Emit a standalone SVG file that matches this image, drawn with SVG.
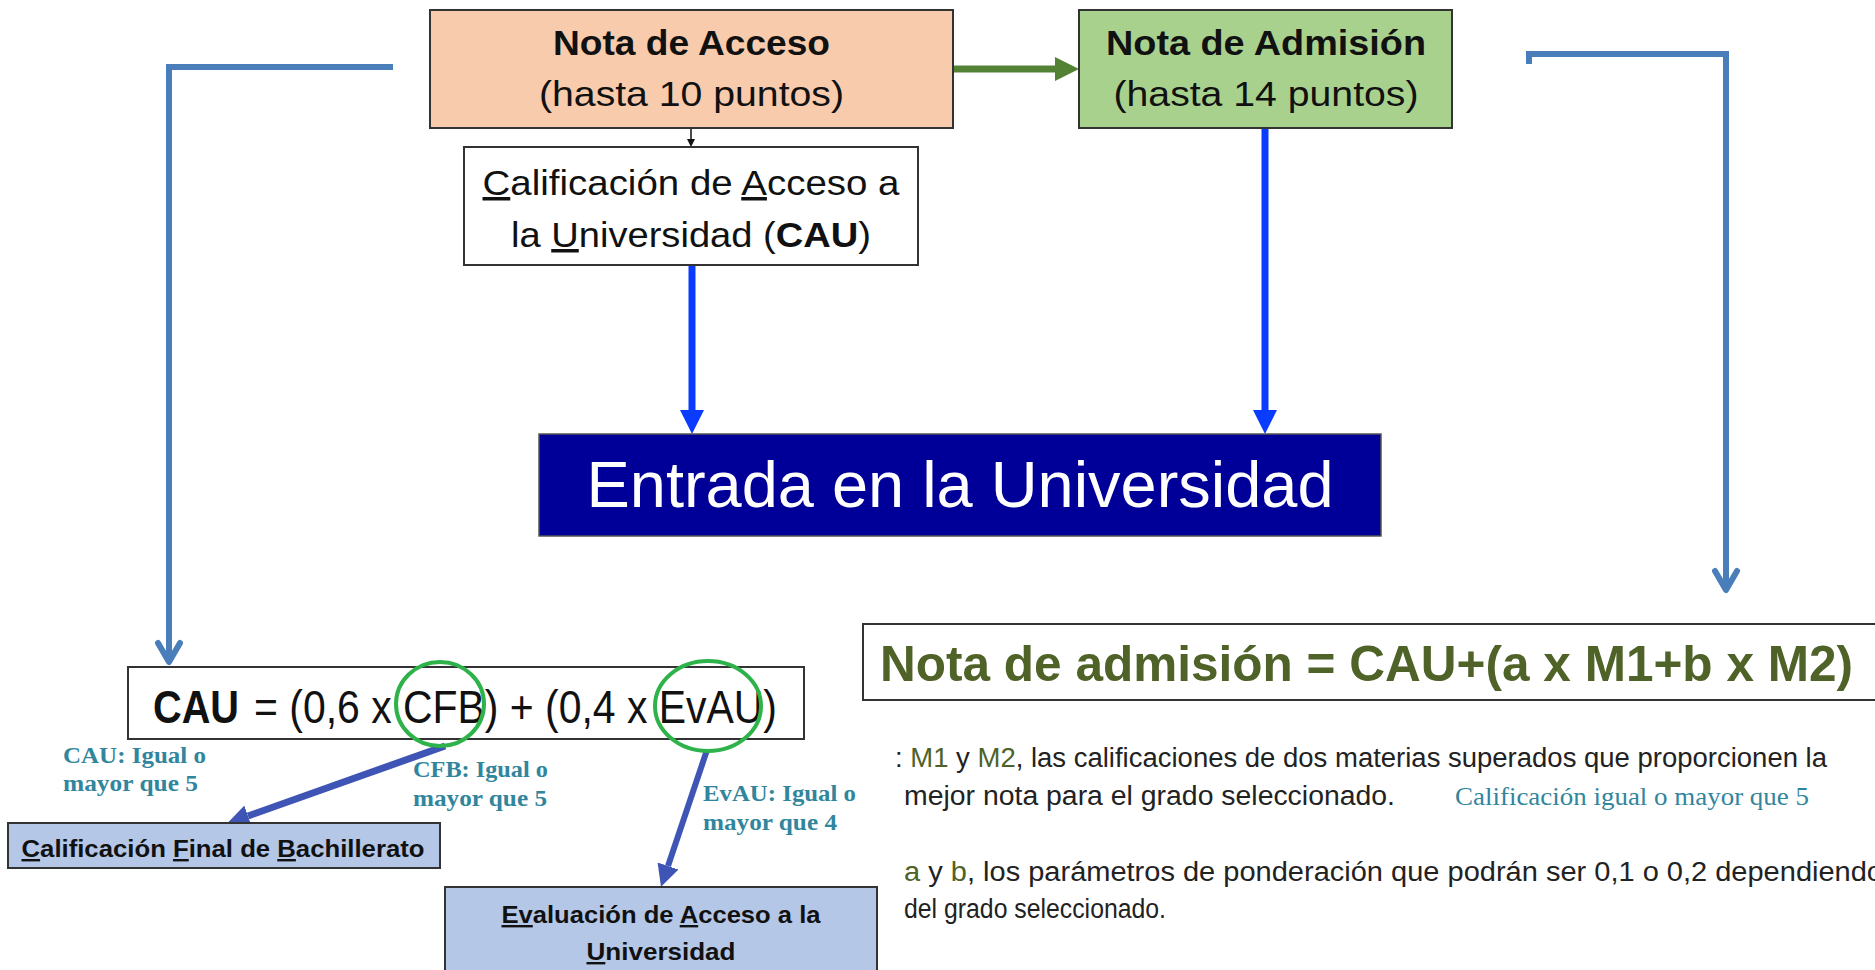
<svg xmlns="http://www.w3.org/2000/svg" width="1875" height="970" viewBox="0 0 1875 970">
<style>
  .box { stroke: #333; stroke-width: 2; }
  .sans { font-family: "Liberation Sans", Arial, sans-serif; }
  .serif { font-family: "Liberation Serif", "Times New Roman", serif; font-weight: bold; fill: #31859C; font-size: 23px; }
  .serif.reg { font-weight: normal; font-size: 26px; }
  .title { font-size: 35px; fill: #111; }
  .b { font-weight: bold; }
  .u { text-decoration: underline; }
  .body { font-size: 27px; fill: #222; }
  .g { fill: #4F6228; }
  .bracket { fill: none; stroke: #4A7EBB; stroke-width: 6; stroke-linejoin: miter; }
</style>
<defs>
  <marker id="hGreen" viewBox="0 0 24 24" refX="0" refY="12" markerWidth="24" markerHeight="24" markerUnits="userSpaceOnUse" orient="auto">
    <path d="M0,0 L24,12 L0,24 z" fill="#548235"/>
  </marker>
  <marker id="hBlue" viewBox="0 0 24 24" refX="0" refY="12" markerWidth="24" markerHeight="24" markerUnits="userSpaceOnUse" orient="auto">
    <path d="M0,0 L24,12 L0,24 z" fill="#0A3CFF"/>
  </marker>
  <marker id="hIndigo" viewBox="0 0 22 22" refX="0" refY="11" markerWidth="22" markerHeight="22" markerUnits="userSpaceOnUse" orient="auto">
    <path d="M0,0 L22,11 L0,22 z" fill="#3F55B5"/>
  </marker>
  <marker id="hBlack" viewBox="0 0 8 8" refX="0" refY="4" markerWidth="8" markerHeight="8" markerUnits="userSpaceOnUse" orient="auto">
    <path d="M0,0 L8,4 L0,8 z" fill="#111"/>
  </marker>
  <marker id="hOpen" viewBox="-26 -16 32 32" refX="0" refY="0" markerWidth="32" markerHeight="32" markerUnits="userSpaceOnUse" orient="auto">
    <path d="M-19,-11 L0,0 L-19,11" fill="none" stroke="#4A7EBB" stroke-width="6" stroke-linecap="round" stroke-linejoin="round"/>
  </marker>
</defs>
<rect width="1875" height="970" fill="#fff"/>

<g id="connectors">
  <line x1="953" y1="69" x2="1055" y2="69" stroke="#548235" stroke-width="7" marker-end="url(#hGreen)"/>
  <line x1="691" y1="128" x2="691" y2="139" stroke="#111" stroke-width="1.5" marker-end="url(#hBlack)"/>
  <line x1="692" y1="265" x2="692" y2="410" stroke="#0A3CFF" stroke-width="7" marker-end="url(#hBlue)"/>
  <line x1="1265" y1="128" x2="1265" y2="410" stroke="#0A3CFF" stroke-width="7" marker-end="url(#hBlue)"/>
  <polyline class="bracket" points="393,67 169,67 169,662" marker-end="url(#hOpen)"/>
  <polyline class="bracket" points="1529,64 1529,54 1726,54 1726,590" marker-end="url(#hOpen)"/>
  <line x1="445" y1="746" x2="248" y2="816" stroke="#3F55B5" stroke-width="7" marker-end="url(#hIndigo)"/>
  <line x1="707" y1="750" x2="668" y2="866" stroke="#3F55B5" stroke-width="6" marker-end="url(#hIndigo)"/>
</g>

<g id="nota-acceso">
  <rect class="box" x="430" y="10" width="523" height="118" fill="#F8CBAD"/>
  <text class="sans title b" x="691.5" y="55" text-anchor="middle" textLength="277" lengthAdjust="spacingAndGlyphs">Nota de Acceso</text>
  <text class="sans title" x="691.5" y="106" text-anchor="middle" textLength="305" lengthAdjust="spacingAndGlyphs">(hasta 10 puntos)</text>
</g>

<g id="nota-admision">
  <rect class="box" x="1079" y="10" width="373" height="118" fill="#A9D18E"/>
  <text class="sans title b" x="1266" y="55" text-anchor="middle" textLength="320" lengthAdjust="spacingAndGlyphs">Nota de Admisión</text>
  <text class="sans title" x="1266" y="106" text-anchor="middle" textLength="305" lengthAdjust="spacingAndGlyphs">(hasta 14 puntos)</text>
</g>

<g id="cau-definicion">
  <rect class="box" x="464" y="147" width="454" height="118" fill="#fff"/>
  <text class="sans title" x="691" y="195" text-anchor="middle" textLength="417" lengthAdjust="spacingAndGlyphs"><tspan class="u">C</tspan>alificación de <tspan class="u">A</tspan>cceso a</text>
  <text class="sans title" x="691" y="247" text-anchor="middle" textLength="360" lengthAdjust="spacingAndGlyphs">la <tspan class="u">U</tspan>niversidad (<tspan class="b">CAU</tspan>)</text>
</g>

<g id="entrada">
  <rect x="539" y="434" width="842" height="102" fill="#000099" stroke="#555" stroke-width="1.5"/>
  <text class="sans" x="960" y="507" text-anchor="middle" font-size="64" fill="#fff" textLength="747" lengthAdjust="spacingAndGlyphs">Entrada en la Universidad</text>
</g>

<g id="cau-formula">
  <rect class="box" x="128" y="667" width="676" height="72" fill="#fff"/>
  <text class="sans b" x="153" y="723" font-size="46" fill="#111" textLength="86" lengthAdjust="spacingAndGlyphs">CAU</text>
  <text class="sans" x="254" y="723" font-size="46" fill="#111" textLength="523" lengthAdjust="spacingAndGlyphs">= (0,6 x CFB) + (0,4 x EvAU)</text>
  <ellipse cx="440" cy="704" rx="44" ry="42" fill="none" stroke="#2EB24A" stroke-width="4"/>
  <ellipse cx="708" cy="706" rx="53" ry="45" fill="none" stroke="#2EB24A" stroke-width="4"/>
</g>

<g id="label-cau">
  <text class="serif" x="63" y="763" textLength="143" lengthAdjust="spacingAndGlyphs">CAU: Igual o</text>
  <text class="serif" x="63" y="791" textLength="135" lengthAdjust="spacingAndGlyphs">mayor que 5</text>
</g>
<g id="label-cfb">
  <text class="serif" x="413" y="777" textLength="135" lengthAdjust="spacingAndGlyphs">CFB: Igual o</text>
  <text class="serif" x="413" y="806" textLength="134" lengthAdjust="spacingAndGlyphs">mayor que 5</text>
</g>
<g id="label-evau">
  <text class="serif" x="703" y="801" textLength="153" lengthAdjust="spacingAndGlyphs">EvAU: Igual o</text>
  <text class="serif" x="703" y="830" textLength="134" lengthAdjust="spacingAndGlyphs">mayor que 4</text>
</g>

<g id="cfb">
  <rect class="box" x="8" y="823" width="432" height="45" fill="#B4C7E7"/>
  <text class="sans b" x="223" y="857" text-anchor="middle" font-size="24" fill="#111" textLength="403" lengthAdjust="spacingAndGlyphs"><tspan class="u">C</tspan>alificación <tspan class="u">F</tspan>inal de <tspan class="u">B</tspan>achillerato</text>
</g>

<g id="evau">
  <rect class="box" x="445" y="887" width="432" height="95" fill="#B4C7E7"/>
  <text class="sans b" x="661" y="923" text-anchor="middle" font-size="24" fill="#111" textLength="319" lengthAdjust="spacingAndGlyphs"><tspan class="u">Ev</tspan>aluación de <tspan class="u">A</tspan>cceso a la</text>
  <text class="sans b" x="661" y="960" text-anchor="middle" font-size="24" fill="#111" textLength="149" lengthAdjust="spacingAndGlyphs"><tspan class="u">U</tspan>niversidad</text>
</g>

<g id="admision-formula">
  <rect class="box" x="863" y="624" width="1030" height="76" fill="#fff"/>
  <text class="sans b" x="880" y="681" font-size="50" fill="#4F6228" textLength="973" lengthAdjust="spacingAndGlyphs">Nota de admisión = CAU+(a x M1+b x M2)</text>
</g>

<g id="explicacion">
  <text class="sans body" x="895" y="767" textLength="932" lengthAdjust="spacingAndGlyphs">: <tspan class="g">M1</tspan> y <tspan class="g">M2</tspan>, las calificaciones de dos materias superados que proporcionen la</text>
  <text class="sans body" x="904" y="805" textLength="491" lengthAdjust="spacingAndGlyphs">mejor nota para el grado seleccionado.</text>
  <text class="serif reg" x="1455" y="805" textLength="354" lengthAdjust="spacingAndGlyphs">Calificación igual o mayor que 5</text>
  <text class="sans body" x="904" y="881" textLength="979" lengthAdjust="spacingAndGlyphs"><tspan class="g">a</tspan> y <tspan class="g">b</tspan>, los parámetros de ponderación que podrán ser 0,1 o 0,2 dependiendo</text>
  <text class="sans body" x="904" y="918" textLength="262" lengthAdjust="spacingAndGlyphs">del grado seleccionado.</text>
</g>
</svg>
